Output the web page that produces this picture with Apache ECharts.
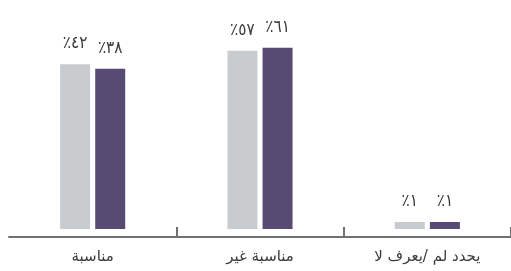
<!DOCTYPE html>
<html>
<head>
<meta charset="utf-8">
<script src="https://cdn.jsdelivr.net/npm/echarts@6/dist/echarts.min.js"></script>
<style>
  html, body { margin: 0; padding: 0; background: #fff; }
  #myChart { width: 511px; height: 271px; }
</style>
</head>
<body>
<div id="myChart"></div>
<script>
var categories = ['مناسبة', 'غير مناسبة', 'لا يعرف/ لم يحدد'];
var greyValues = [42, 57, 1];
var purpleValues = [38, 61, 1];

var arabicDigits = ['٠', '١', '٢', '٣', '٤', '٥', '٦', '٧', '٨', '٩'];

function toArabic(n) {
    return String(n).replace(/[0-9]/g, function (d) { return arabicDigits[+d]; });
}

// the picture lays the words out left to right, so every word / space / slash is its own token
function wordsLtr(s) {
    return s.split(/( |\/)/).filter(function (t) { return t !== ''; }).map(function (t) {
        return '{w|' + t + '}';
    }).join('');
}

var labelStyle = {
    show: true,
    position: 'top',
    distance: 12,
    color: '#3a3a3a',
    fontSize: 17,
    fontFamily: 'DejaVu Sans Condensed',
    formatter: function (p) { return '٪' + toArabic(p.value); }
};

var myChart = echarts.init(document.querySelector('#myChart'));

var option = {
    animation: false,
    grid: { left: 9, right: -2, top: 26, bottom: 42 },
    xAxis: {
        type: 'category',
        data: categories,
        offset: 8,
        axisLine: { lineStyle: { color: '#707070', width: 2 } },
        axisTick: {
            show: true,
            inside: true,
            length: 10,
            interval: function (i) { return i === 1 || i === 2; },
            lineStyle: { color: '#707070', width: 2 }
        },
        axisLabel: {
            interval: 0,
            margin: 13,
            formatter: wordsLtr,
            rich: {
                w: { fontSize: 15, fontFamily: 'DejaVu Sans', color: '#3a3a3a' }
            }
        }
    },
    yAxis: {
        type: 'log',
        min: 1,
        max: 100,
        show: false
    },
    series: [
        {
            name: 'grey',
            type: 'bar',
            data: greyValues,
            barWidth: 30,
            barGap: '17%',
            barMinHeight: 7,
            itemStyle: { color: '#c9cccf' },
            label: labelStyle
        },
        {
            name: 'purple',
            type: 'bar',
            data: purpleValues,
            barWidth: 30,
            barMinHeight: 7,
            itemStyle: { color: '#574b73' },
            label: labelStyle
        }
    ]
};

myChart.setOption(option);
</script>
</body>
</html>
